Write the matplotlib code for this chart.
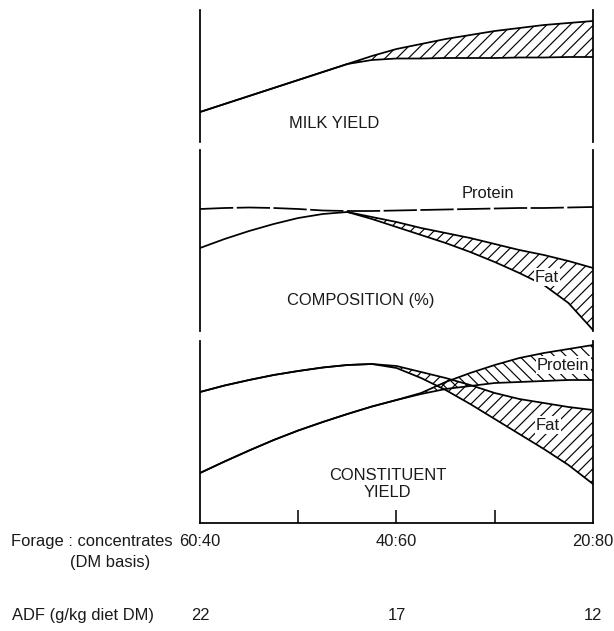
import numpy as np
import matplotlib.pyplot as plt

plt.rcParams['font.family'] = ['Liberation Sans', 'DejaVu Sans']
plt.rcParams['hatch.linewidth'] = 0.6

# forage share of the diet (%), left = 60:40, right = 20:80
forage = np.array([60, 57.5, 55, 52.5, 50, 47.5, 45, 42.5, 40,
                   37.5, 35, 32.5, 30, 27.5, 25, 22.5, 20])
fc_labels = ['60:40', '40:60', '20:80']
fc_ticks = [60, 40, 20]
adf_labels = ['22', '17', '12']

# milk yield (relative height)
milk_upper = np.array([30, 38, 46, 54, 62, 70, 78, 86, 93,
                       98, 103, 107, 111, 114, 117, 119, 121])
milk_lower = np.array([30, 38, 46, 54, 62, 70, 78, 82, 83.5,
                       83.5, 84, 84, 84, 84.5, 84.5, 85, 85])

# composition (%)
comp_protein = np.array([122, 123, 123.5, 123, 122, 120.5, 120, 120, 120.5,
                         121, 121.5, 122, 122.5, 123, 123, 123.5, 124])
comp_fat_lower = np.array([83, 92, 100, 107, 113, 117, 119, 112, 104,
                           96, 88, 79, 69, 58, 46, 28, 1])
comp_fat_hi_x = np.array([45, 42.5, 40, 37.5, 35, 32.5, 30, 27.5, 25, 22.5, 20])
comp_fat_upper = np.array([119, 114, 109, 103, 98, 93, 87, 81, 76, 70, 63])

# constituent yield
fat_upper = np.array([131, 137.5, 143, 148, 152, 155.5, 158, 159, 157,
                      151, 145, 138, 130, 124, 120, 116, 113])
fat_lower = np.array([131, 137.5, 143, 148, 152, 155.5, 158, 159, 155,
                      145, 133, 119, 104, 89, 74, 58, 39])
prot_upper = np.array([50, 61.5, 72.5, 83, 92.5, 101, 109, 116.5, 123,
                       130, 141, 150, 158, 165, 170, 174, 178])
prot_lower = np.array([50, 61.5, 72.5, 83, 92.5, 101, 109, 116.5, 123,
                       129, 134, 137, 140, 141, 142, 143, 143])

W, H = 614, 631
fig = plt.figure(figsize=(W / 140, H / 140), dpi=140)
LW = 0.9
txt = dict(fontsize=8.5, color='#1a1a1a', ha='center', va='center')
box = dict(facecolor='white', edgecolor='none', pad=0.6)


def add_panel(top, bottom):
    ax = fig.add_axes([200 / W, 1 - bottom / H, 393 / W, (bottom - top) / H])
    ax.set_xlim(60, 20)
    ax.set_ylim(0, bottom - top)
    ax.set_yticks([])
    ax.spines['top'].set_visible(False)
    ax.spines['bottom'].set_visible(False)
    for s in ax.spines.values():
        s.set_linewidth(LW)
    ax.set_xticks([])
    return ax


# milk yield
ax1 = add_panel(10, 142)
ax1.fill_between(forage, milk_lower, milk_upper, facecolor='none',
                 edgecolor='black', hatch='////', linewidth=0)
ax1.plot(forage, milk_upper, color='black', lw=LW)
ax1.plot(forage, milk_lower, color='black', lw=LW)
ax1.text(46.3, 18, 'MILK YIELD', **txt)

# composition
ax2 = add_panel(150, 331)
fat_lo_part = comp_fat_lower[forage <= 45]
ax2.fill_between(comp_fat_hi_x, fat_lo_part, comp_fat_upper, facecolor='none',
                 edgecolor='black', hatch='////', linewidth=0)
ax2.plot(forage, comp_protein, color='black', lw=LW, dashes=(19, 2))
ax2.plot(forage, comp_fat_lower, color='black', lw=LW)
ax2.plot(comp_fat_hi_x, comp_fat_upper, color='black', lw=LW)
ax2.text(30.7, 138, 'Protein', **txt)
ax2.text(24.7, 54, 'Fat', bbox=box, **txt)
ax2.text(43.6, 31, 'COMPOSITION (%)', **txt)

# constituent yield
ax3 = add_panel(341, 523)
ax3.spines['bottom'].set_visible(True)
ax3.fill_between(forage, fat_lower, fat_upper, facecolor='none',
                 edgecolor='black', hatch='////', linewidth=0)
ax3.fill_between(forage, prot_lower, prot_upper, facecolor='none',
                 edgecolor='black', hatch='\\\\\\\\', linewidth=0)
for series in (fat_upper, fat_lower, prot_upper, prot_lower):
    ax3.plot(forage, series, color='black', lw=LW)
ax3.text(23.05, 158, 'Protein', bbox=box, **txt)
ax3.text(24.6, 98, 'Fat', bbox=box, **txt)
ax3.text(40.9, 39, 'CONSTITUENT\nYIELD', linespacing=1.1, **txt)
ax3.set_xticks([50, 40, 30], minor=True)
ax3.tick_params(which='minor', direction='in', length=6.5, width=0.8,
                labelbottom=False)

# x-axis scales under the chart
for x, lbl in zip(fc_ticks, fc_labels):
    ax3.annotate(lbl, xy=(x, H - 546), xycoords=('data', 'figure pixels'),
                 fontsize=8.5, color='#1a1a1a', ha='center', va='baseline')
for x, lbl in zip(fc_ticks, adf_labels):
    ax3.annotate(lbl, xy=(x, H - 620), xycoords=('data', 'figure pixels'),
                 fontsize=8.5, color='#1a1a1a', ha='center', va='baseline')

fig.text(11 / W, 1 - 546 / H, 'Forage : concentrates', fontsize=8.5,
         color='#1a1a1a', ha='left', va='baseline')
fig.text(110 / W, 1 - 567 / H, '(DM basis)', fontsize=8.5,
         color='#1a1a1a', ha='center', va='baseline')
fig.text(12 / W, 1 - 620 / H, 'ADF (g/kg diet DM)', fontsize=8.5,
         color='#1a1a1a', ha='left', va='baseline')

fig.savefig('out.png', dpi=140)
